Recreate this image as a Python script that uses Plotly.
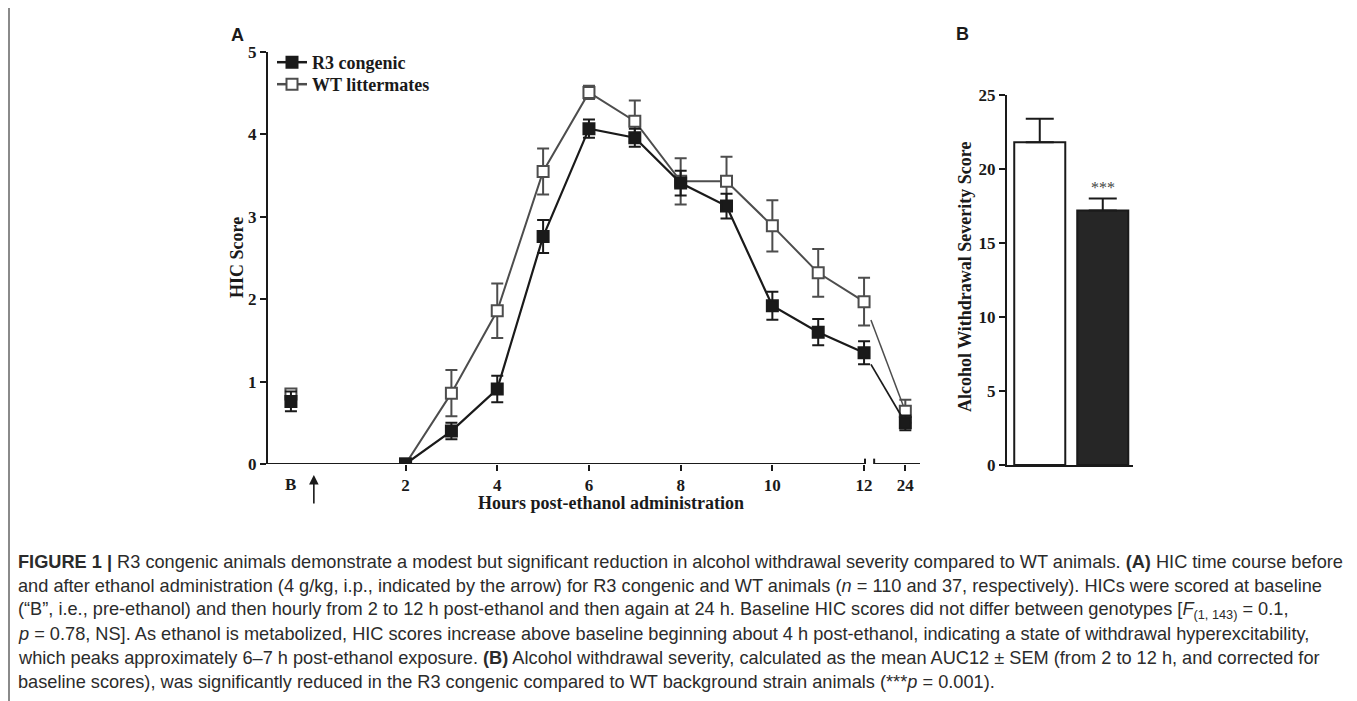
import numpy as np
import plotly.graph_objects as go

# ---------------- data ----------------
time_labels = ["B", "2", "3", "4", "5", "6", "7", "8", "9", "10", "11", "12", "24"]
time_pos = [-0.5, 2, 3, 4, 5, 6, 7, 8, 9, 10, 11, 12, 12.9]
r3_mean = [0.76, 0.00, 0.40, 0.91, 2.76, 4.07, 3.96, 3.41, 3.13, 1.92, 1.60, 1.35, 0.50]
r3_sem = [0.12, 0.00, 0.10, 0.16, 0.20, 0.11, 0.11, 0.15, 0.15, 0.17, 0.16, 0.14, 0.09]
wt_mean = [0.85, 0.00, 0.86, 1.86, 3.55, 4.51, 4.16, 3.43, 3.43, 2.89, 2.32, 1.97, 0.64]
wt_sem = [0.03, 0.00, 0.28, 0.33, 0.28, 0.08, 0.25, 0.28, 0.30, 0.31, 0.29, 0.29, 0.14]
series_names = ["R3 congenic", "WT littermates"]

bar_groups = ["WT littermates", "R3 congenic"]
bar_means = [21.8, 17.2]
bar_sems = [1.6, 0.8]

hic_ticks = [0, 1, 2, 3, 4, 5]
aws_ticks = [0, 5, 10, 15, 20, 25]

caption_lines = [
    "<b>FIGURE 1 |</b> R3 congenic animals demonstrate a modest but significant reduction in alcohol withdrawal severity compared to WT animals. <b>(A)</b> HIC time course before",
    "and after ethanol administration (4 g/kg, i.p., indicated by the arrow) for R3 congenic and WT animals (<i>n</i> = 110 and 37, respectively). HICs were scored at baseline",
    "(“B”, i.e., pre-ethanol) and then hourly from 2 to 12 h post-ethanol and then again at 24 h. Baseline HIC scores did not differ between genotypes [<i>F</i><sub>(1, 143)</sub> = 0.1,",
    "<i>p</i> = 0.78, NS]. As ethanol is metabolized, HIC scores increase above baseline beginning about 4 h post-ethanol, indicating a state of withdrawal hyperexcitability,",
    "which peaks approximately 6–7 h post-ethanol exposure. <b>(B)</b> Alcohol withdrawal severity, calculated as the mean AUC12 ± SEM (from 2 to 12 h, and corrected for",
    "baseline scores), was significantly reduced in the R3 congenic compared to WT background strain animals (***<i>p</i> = 0.001).",
]

# ---------------- geometry ----------------
# the page body has an 8px margin: figure is placed at (8, 8)
OFF = 8
W, H = 1349, 693
XR = [-1.0, 13.22]
BREAK = (12.02, 12.22)

def px(x):
    return (x - OFF) / W

def py(y):
    return 1 - (y - OFF) / H

SERIF = "Liberation Serif"
BLACK = "#1a1a1a"
GRAY = "#4d4d4d"

fig = go.Figure()

t = np.array(time_pos)
connected = slice(1, 12)   # 2..12 h joined
tail = slice(11, 13)        # 12 -> 24 h

def series(mean, sem, name, color, fill, legend_id, lw):
    m = np.array(mean)
    s = np.array(sem)
    fig.add_trace(go.Scatter(
        x=t[connected], y=m[connected], mode="lines", line=dict(color=color, width=lw),
        showlegend=False, hoverinfo="skip", xaxis="x", yaxis="y"))
    x0, x1 = t[tail]
    y0, y1 = m[tail]
    xs = BREAK[1] - 0.07
    ys = y0 + (y1 - y0) * (xs - x0) / (x1 - x0)
    fig.add_trace(go.Scatter(
        x=[xs, x1], y=[ys, y1], mode="lines", line=dict(color=color, width=lw - 0.5),
        showlegend=False, hoverinfo="skip", xaxis="x", yaxis="y"))
    fig.add_trace(go.Scatter(
        x=t, y=m, mode="markers", name=name,
        marker=dict(symbol="square", size=11, color=fill, line=dict(color=color, width=2)),
        error_y=dict(type="data", array=s, visible=True, color=color, thickness=2, width=6),
        showlegend=False, xaxis="x", yaxis="y"))
    fig.add_trace(go.Scatter(
        x=[None], y=[None], mode="lines+markers", name=name, legend=legend_id,
        marker=dict(symbol="square", size=11, color=fill, line=dict(color=color, width=2)),
        line=dict(color=color, width=2.5), xaxis="x", yaxis="y"))

series(wt_mean, wt_sem, series_names[1], GRAY, "white", "legend2", 2)
series(r3_mean, r3_sem, series_names[0], BLACK, BLACK, "legend", 2.2)

# ---------------- panel B bars ----------------
fig.add_trace(go.Bar(
    x=[0, 1], y=bar_means, width=0.81,
    marker=dict(color=["white", "#262626"], line=dict(color=BLACK, width=2)),
    error_y=dict(type="data", array=bar_sems, arrayminus=[0, 0], symmetric=False,
                 visible=True, color=BLACK, thickness=2, width=14),
    showlegend=False, xaxis="x2", yaxis="y2", hovertext=bar_groups))

# ---------------- layout ----------------
axis_font = dict(family=SERIF, size=17, color=BLACK, weight="bold")
legend_common = dict(xanchor="left", yanchor="top",
                     font=dict(family=SERIF, size=18, color=BLACK, weight="bold"),
                     bgcolor="rgba(0,0,0,0)", itemwidth=30)

fig.update_layout(
    width=W, height=H, margin=dict(l=0, r=0, t=0, b=0),
    paper_bgcolor="white", plot_bgcolor="white",
    showlegend=True,
    legend=dict(x=px(272), y=py(44), **legend_common),
    legend2=dict(x=px(272), y=py(66), **legend_common),
    xaxis=dict(domain=[px(268), px(920)], range=XR, showline=False, zeroline=False,
               showgrid=False, tickvals=[2, 4, 6, 8, 10, 12, time_pos[-1]],
               ticktext=["2", "4", "6", "8", "10", "12", "24"],
               ticks="outside", ticklen=6, tickwidth=2, tickcolor=BLACK,
               tickfont=axis_font, automargin=False, fixedrange=True),
    yaxis=dict(domain=[py(464), py(52)], range=[0, 5], tickvals=hic_ticks,
               showline=True, linewidth=2, linecolor=BLACK, zeroline=False, showgrid=False,
               ticks="outside", ticklen=6, tickwidth=2, tickcolor=BLACK,
               tickfont=axis_font, automargin=False),
    xaxis2=dict(domain=[px(1007), px(1133)], range=[-0.52, 1.48], showline=True,
                linewidth=2, linecolor=BLACK, showticklabels=False, ticks="",
                zeroline=False, showgrid=False, anchor="y2", automargin=False),
    yaxis2=dict(domain=[py(465), py(95)], range=[0, 25], tickvals=aws_ticks,
                showline=True, linewidth=2, linecolor=BLACK, zeroline=False, showgrid=False,
                ticks="outside", ticklen=6, tickwidth=2, tickcolor=BLACK,
                tickfont=axis_font, anchor="x2", automargin=False),
)

cap = 0.065
shapes = [
    dict(type="line", xref="x", yref="y", x0=XR[0], x1=BREAK[0], y0=0, y1=0,
         line=dict(color=BLACK, width=2)),
    dict(type="line", xref="x", yref="y", x0=BREAK[1], x1=XR[1], y0=0, y1=0,
         line=dict(color=BLACK, width=2)),
    dict(type="line", xref="x", yref="y", x0=BREAK[0], x1=BREAK[0], y0=-cap, y1=cap,
         line=dict(color=BLACK, width=2)),
    dict(type="line", xref="x", yref="y", x0=BREAK[1], x1=BREAK[1], y0=-cap, y1=cap,
         line=dict(color=BLACK, width=2)),
    dict(type="line", xref="paper", yref="paper", x0=px(9), x1=px(9), y0=0, y1=1,
         line=dict(color="#8a8a8a", width=2)),
    dict(type="line", xref="paper", yref="paper", x0=px(1355), x1=px(1355), y0=0, y1=1,
         line=dict(color="#8a8a8a", width=2)),
]
fig.update_layout(shapes=shapes)

def note(x, y, text, size=18, family=SERIF, angle=0, color=BLACK, **kw):
    d = dict(x=px(x), y=py(y), xref="paper", yref="paper", text=text, showarrow=False,
             xanchor="center", yanchor="middle", textangle=angle,
             font=dict(family=family, size=size, color=color))
    d.update(kw)
    return d

ann = []
ann.append(dict(x=time_pos[0], y=0, xref="x", yref="y", text="<b>B</b>", showarrow=False,
                xanchor="center", yanchor="top", yshift=-9,
                font=dict(family=SERIF, size=17, color=BLACK)))
ann.append(dict(x=0, y=0, xref="x", yref="y", ax=0, ay=30, axref="pixel", ayref="pixel",
                yshift=-11, text="", showarrow=True, arrowhead=2, arrowsize=1.2,
                arrowwidth=1.6, arrowcolor=BLACK))
ann.append(note(611, 503, "<b>Hours post-ethanol administration</b>"))
ann.append(note(237, 258, "<b>HIC Score</b>", angle=-90))
ann.append(note(965, 277, "<b>Alcohol Withdrawal Severity Score</b>", angle=-90))
ann.append(dict(x=1, y=bar_means[1] + bar_sems[1], xref="x2", yref="y2", text="***",
                showarrow=False, xanchor="center", yanchor="bottom", yshift=1,
                font=dict(family=SERIF, size=16, color="#444")))
ann.append(note(237, 35, "<b>A</b>", size=18, family="Liberation Sans"))
ann.append(note(962, 34, "<b>B</b>", size=18, family="Liberation Sans"))
for i, line in enumerate(caption_lines):
    ann.append(dict(x=px(16), y=py(562 + 24 * i), xref="paper", yref="paper", text=line,
                    xanchor="left", yanchor="middle", showarrow=False, align="left",
                    font=dict(family="Liberation Sans", size=18.2, color="#2b2b2b")))
fig.update_layout(annotations=ann)

fig.write_html("out.html")
